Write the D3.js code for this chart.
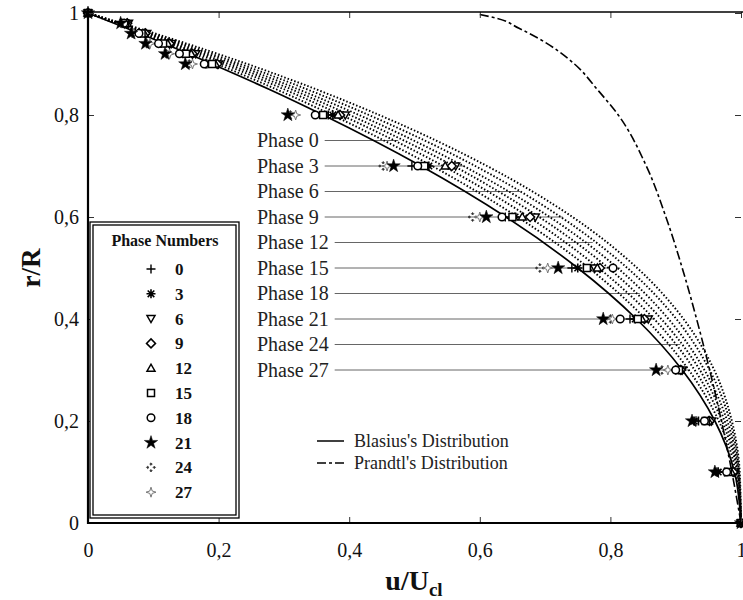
<!DOCTYPE html>
<html>
<head>
<meta charset="utf-8">
<script src="https://cdn.jsdelivr.net/npm/d3@7"></script>
<style>
  body { margin: 0; background: #fff; }
  svg { display: block; }
  text { font-family: "Liberation Serif", "Times New Roman", serif; fill: #111; }
</style>
</head>
<body>
<svg id="chart" width="743" height="600"></svg>
<script>
// measured points: radial position r/R of each row of markers
const rLevels = [1, 0.98, 0.96, 0.94, 0.92, 0.9, 0.8, 0.7, 0.6, 0.5, 0.4, 0.3, 0.2, 0.1, 0];

// u/Ucl, one array per phase (same order as rLevels)
const uPhase0  = [0, 0.055, 0.078, 0.110, 0.145, 0.180, 0.368, 0.496, 0.639, 0.741, 0.830, 0.900, 0.935, 0.975, 1];
const uPhase3  = [0, 0.056, 0.080, 0.112, 0.148, 0.182, 0.375, 0.522, 0.654, 0.750, 0.838, 0.905, 0.928, 0.965, 1];
const uPhase6  = [0, 0.062, 0.090, 0.128, 0.165, 0.200, 0.394, 0.563, 0.685, 0.776, 0.858, 0.910, 0.955, 0.990, 1];
const uPhase9  = [0, 0.060, 0.088, 0.125, 0.160, 0.198, 0.386, 0.557, 0.677, 0.784, 0.852, 0.908, 0.952, 0.988, 1];
const uPhase12 = [0, 0.060, 0.086, 0.122, 0.158, 0.195, 0.383, 0.547, 0.665, 0.780, 0.848, 0.907, 0.950, 0.985, 1];
const uPhase15 = [0, 0.057, 0.082, 0.115, 0.150, 0.190, 0.360, 0.515, 0.650, 0.764, 0.842, 0.905, 0.946, 0.980, 1];
const uPhase18 = [0, 0.055, 0.078, 0.108, 0.140, 0.178, 0.348, 0.505, 0.634, 0.804, 0.815, 0.900, 0.944, 0.978, 1];
const uPhase21 = [0, 0.050, 0.066, 0.088, 0.118, 0.149, 0.306, 0.468, 0.610, 0.720, 0.789, 0.870, 0.925, 0.960, 1];
const uPhase24 = [0, 0.050, 0.068, 0.090, 0.120, 0.155, 0.310, 0.452, 0.589, 0.692, 0.800, 0.879, 0.930, 0.962, 1];
const uPhase27 = [0, 0.052, 0.070, 0.095, 0.125, 0.160, 0.318, 0.458, 0.600, 0.704, 0.803, 0.888, 0.932, 0.965, 1];

const phaseNames = ["0", "3", "6", "9", "12", "15", "18", "21", "24", "27"];

// reference and fitted curves, sampled at curveR
const curveR   = [0, 0.1, 0.2, 0.3, 0.4, 0.5, 0.6, 0.7, 0.8, 0.85, 0.9, 0.95, 1];
const blasiusU = [1, 0.990, 0.960, 0.910, 0.840, 0.750, 0.640, 0.510, 0.360, 0.278, 0.190, 0.098, 0];
const fitU1 = [1, 0.992, 0.966, 0.920, 0.854, 0.767, 0.658, 0.527, 0.374, 0.289, 0.198, 0.102, 0];
const fitU2 = [1, 0.994, 0.971, 0.929, 0.867, 0.782, 0.675, 0.544, 0.388, 0.301, 0.207, 0.107, 0];
const fitU3 = [1, 0.995, 0.975, 0.937, 0.878, 0.797, 0.691, 0.560, 0.401, 0.312, 0.215, 0.111, 0];
const fitU4 = [1, 0.996, 0.979, 0.944, 0.889, 0.811, 0.707, 0.575, 0.415, 0.323, 0.224, 0.116, 0];
const fitU5 = [1, 0.997, 0.983, 0.952, 0.901, 0.826, 0.724, 0.593, 0.430, 0.336, 0.233, 0.121, 0];
const fitU6 = [1, 0.998, 0.986, 0.959, 0.912, 0.841, 0.742, 0.611, 0.446, 0.350, 0.244, 0.127, 0];

const prandtlR = [0, 0.1, 0.2, 0.3, 0.4, 0.5, 0.6, 0.7, 0.8, 0.85, 0.9, 0.95, 0.97, 0.99, 0.997];
const prandtlU = [1, 0.986, 0.970, 0.952, 0.932, 0.910, 0.885, 0.855, 0.812, 0.780, 0.745, 0.690, 0.660, 0.625, 0.600];

// phase labels with leader lines
const labelR    = [0.75, 0.70, 0.65, 0.60, 0.55, 0.50, 0.45, 0.40, 0.35, 0.30];
const labelEndU = [0.475, 0.577, 0.662, 0.727, 0.773, 0.815, 0.845, 0.868, 0.907, 0.922];

const xTicks = [0, 0.2, 0.4, 0.6, 0.8, 1];
const yTicks = [0, 0.2, 0.4, 0.6, 0.8, 1];

const svg = d3.select("#chart");
const x = d3.scaleLinear().domain([0, 1]).range([88, 741]);
const y = d3.scaleLinear().domain([0, 1]).range([523, 13]);

const fmt = d => (d === 0 || d === 1) ? String(d) : d3.format(".1f")(d).replace(".", ",");

// -------- leader lines + phase labels --------
const lab = svg.append("g");
phaseNames.forEach((p, i) => {
  const t = lab.append("text")
    .attr("x", 257).attr("y", y(labelR[i]))
    .attr("dy", "0.34em")
    .style("font-size", "20px").style("fill", "#222")
    .text("Phase " + p);
  const w = t.node().getComputedTextLength();
  lab.append("line")
    .attr("x1", 257 + w + 6).attr("x2", x(labelEndU[i]))
    .attr("y1", y(labelR[i])).attr("y2", y(labelR[i]))
    .attr("stroke", "#666").attr("stroke-width", 1);
});

// -------- curves --------
const line = d3.line().x(d => x(d.u)).y(d => y(d.r)).curve(d3.curveMonotoneY);
const pts = (rs, us) => rs.map((r, i) => ({ r, u: us[i] })).sort((a, b) => b.r - a.r);

[fitU1, fitU2, fitU3, fitU4, fitU5, fitU6].forEach(us => {
  svg.append("path").attr("d", line(pts(curveR, us)))
    .attr("fill", "none").attr("stroke", "#000")
    .attr("stroke-width", 1.9).attr("stroke-dasharray", "1.5,2");
});

svg.append("path").attr("d", line(pts(curveR, blasiusU)))
  .attr("fill", "none").attr("stroke", "#000").attr("stroke-width", 1.7);

svg.append("path").attr("d", line(pts(prandtlR, prandtlU)))
  .attr("fill", "none").attr("stroke", "#000").attr("stroke-width", 1.6)
  .attr("stroke-dasharray", "9,3,3,3");

// -------- marker shapes --------
const star = d3.symbol().type(d3.symbolStar).size(55)();
const shapes = {
  "0":  { d: "M-4.5,0H4.5M0,-4.5V4.5", fill: "none", stroke: "#000", sw: 1.4 },
  "3":  { d: "M-4.5,0H4.5M0,-4.5V4.5M-3.3,-3.3L3.3,3.3M-3.3,3.3L3.3,-3.3", fill: "none", stroke: "#000", sw: 1.6 },
  "6":  { d: "M-4,-3L4,-3L0,4Z", fill: "#fff", stroke: "#000", sw: 1.5 },
  "9":  { d: "M0,-4.5L4.5,0L0,4.5L-4.5,0Z", fill: "#fff", stroke: "#000", sw: 1.5 },
  "12": { d: "M-4,3L4,3L0,-4Z", fill: "#fff", stroke: "#000", sw: 1.5 },
  "15": { d: "M-3.5,-3.5H3.5V3.5H-3.5Z", fill: "#fff", stroke: "#000", sw: 1.5 },
  "18": { d: "M3.8,0A3.8,3.8,0,1,1,-3.8,0A3.8,3.8,0,1,1,3.8,0Z", fill: "#fff", stroke: "#000", sw: 1.5 },
  "21": { d: star, fill: "#000", stroke: "#000", sw: 0.5 },
  "24": { d: "M0,-4.6L1.3,-3.3L0,-2L-1.3,-3.3Z M0,2L1.3,3.3L0,4.6L-1.3,3.3Z M-4.6,0L-3.3,-1.3L-2,0L-3.3,1.3Z M2,0L3.3,-1.3L4.6,0L3.3,1.3Z",
          fill: "#333", stroke: "#333", sw: 0.6 },
  "27": { d: "M0,-5L1.2,-1.2L5,0L1.2,1.2L0,5L-1.2,1.2L-5,0L-1.2,-1.2Z", fill: "#fff", stroke: "#777", sw: 1 }
};

const phaseU = [uPhase0, uPhase3, uPhase6, uPhase9, uPhase12, uPhase15, uPhase18, uPhase21, uPhase24, uPhase27];

// lighter symbols first so the dark ones stay on top
const drawOrder = [8, 9, 0, 1, 2, 3, 4, 5, 6, 7];
drawOrder.forEach(i => {
  const s = shapes[phaseNames[i]];
  svg.append("g").selectAll("path")
    .data(rLevels.map((r, k) => ({ r, u: phaseU[i][k] })))
    .join("path")
    .attr("transform", d => `translate(${x(d.u)},${y(d.r)})`)
    .attr("d", s.d)
    .attr("fill", s.fill).attr("stroke", s.stroke).attr("stroke-width", s.sw);
});

// -------- axes --------
svg.append("g").attr("transform", "translate(88,0)")
  .call(d3.axisLeft(y).tickValues(yTicks).tickSize(-6).tickPadding(9).tickFormat(fmt));
svg.append("g").attr("transform", "translate(0,523)")
  .call(d3.axisBottom(x).tickValues(xTicks).tickSize(-6).tickPadding(20).tickFormat(fmt));
svg.append("g").attr("transform", "translate(0,12)")
  .call(d3.axisTop(x).tickValues(xTicks).tickSize(-6).tickFormat(""));
svg.append("g").attr("transform", "translate(741,0)")
  .call(d3.axisRight(y).tickValues(yTicks).tickSize(-6).tickFormat(""));

svg.selectAll(".domain").remove();
svg.selectAll(".tick line").attr("stroke", "#333").attr("stroke-width", 1);
svg.selectAll(".tick text")
  .attr("font-family", null)
  .style("font-size", "20px").style("fill", "#111");

// frame
svg.append("line").attr("x1", 87).attr("x2", 743).attr("y1", 12).attr("y2", 12)
  .attr("stroke", "#000").attr("stroke-width", 1.6);
svg.append("line").attr("x1", 88).attr("x2", 88).attr("y1", 11).attr("y2", 524)
  .attr("stroke", "#000").attr("stroke-width", 2.2);
svg.append("line").attr("x1", 87).attr("x2", 743).attr("y1", 523).attr("y2", 523)
  .attr("stroke", "#000").attr("stroke-width", 2.2);

// axis titles
svg.append("text")
  .attr("transform", "translate(40,268) rotate(-90)")
  .attr("text-anchor", "middle")
  .style("font-size", "27px").style("font-weight", "bold")
  .text("r/R");

const xt = svg.append("text")
  .attr("x", 414).attr("y", 590)
  .attr("text-anchor", "middle")
  .style("font-size", "28px").style("font-weight", "bold");
xt.append("tspan").text("u/U");
xt.append("tspan").attr("dy", 6).style("font-size", "19px").text("cl");

// -------- phase number legend --------
const lg = svg.append("g");
lg.append("rect").attr("x", 90).attr("y", 222).attr("width", 149).attr("height", 296)
  .attr("fill", "#fff").attr("stroke", "#000").attr("stroke-width", 1.3);
lg.append("rect").attr("x", 93).attr("y", 225).attr("width", 143).attr("height", 290)
  .attr("fill", "none").attr("stroke", "#000").attr("stroke-width", 1.3);
lg.append("text").attr("x", 165).attr("y", 246)
  .attr("text-anchor", "middle")
  .style("font-size", "16px").style("font-weight", "bold")
  .text("Phase Numbers");
phaseNames.forEach((p, i) => {
  const ly = 269 + i * 24.8;
  const s = shapes[p];
  lg.append("path").attr("transform", `translate(151,${ly})`)
    .attr("d", s.d).attr("fill", s.fill).attr("stroke", s.stroke).attr("stroke-width", s.sw);
  lg.append("text").attr("x", 175).attr("y", ly).attr("dy", "0.35em")
    .style("font-size", "17px").style("font-weight", "bold")
    .text(p);
});

// -------- distribution legend --------
const dl = svg.append("g");
dl.append("line").attr("x1", 317).attr("x2", 344).attr("y1", 441).attr("y2", 441)
  .attr("stroke", "#000").attr("stroke-width", 1.5);
dl.append("line").attr("x1", 317).attr("x2", 344).attr("y1", 463).attr("y2", 463)
  .attr("stroke", "#000").attr("stroke-width", 1.5).attr("stroke-dasharray", "9,3,3,3");
dl.append("text").attr("x", 354).attr("y", 441).attr("dy", "0.34em")
  .style("font-size", "18px").style("fill", "#222").text("Blasius's Distribution");
dl.append("text").attr("x", 354).attr("y", 463).attr("dy", "0.34em")
  .style("font-size", "18px").style("fill", "#222").text("Prandtl's Distribution");
</script>
</body>
</html>
